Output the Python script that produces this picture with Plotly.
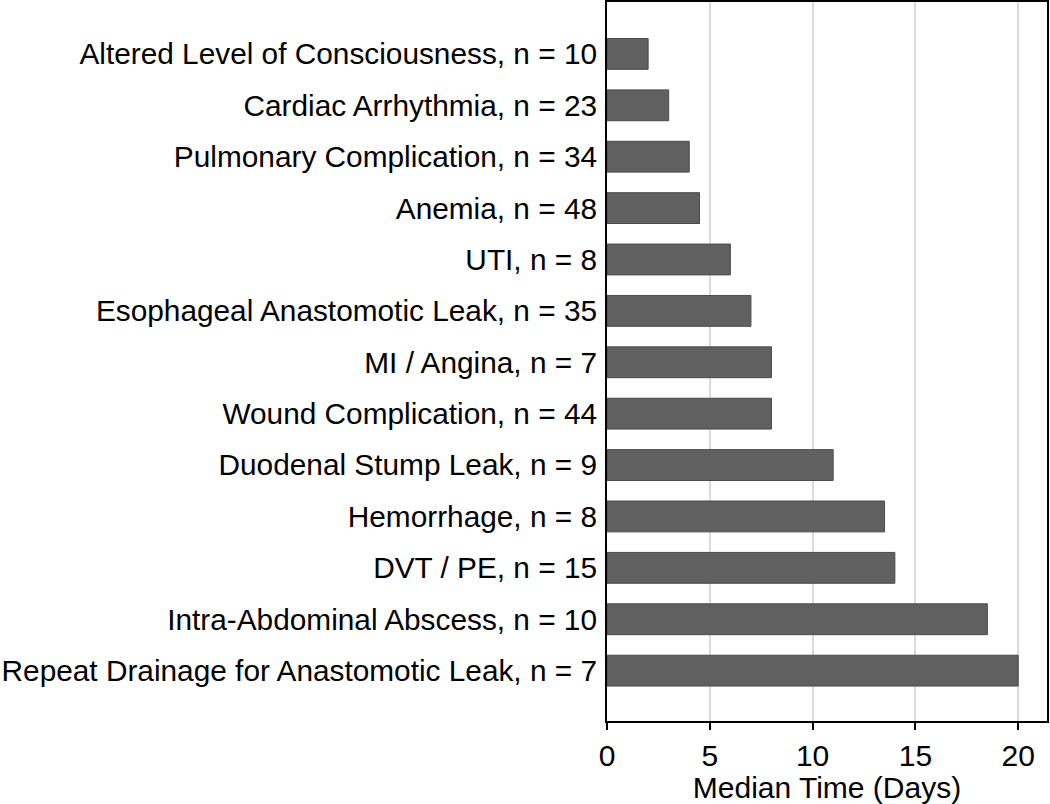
import plotly.graph_objects as go

categories = [
    "Altered Level of Consciousness, n = 10",
    "Cardiac Arrhythmia, n = 23",
    "Pulmonary Complication, n = 34",
    "Anemia, n = 48",
    "UTI, n = 8",
    "Esophageal Anastomotic Leak, n = 35",
    "MI / Angina, n = 7",
    "Wound Complication, n = 44",
    "Duodenal Stump Leak, n = 9",
    "Hemorrhage, n = 8",
    "DVT / PE, n = 15",
    "Intra-Abdominal Abscess, n = 10",
    "Repeat Drainage for Anastomotic Leak, n = 7",
]
median_days = [2, 3, 4, 4.5, 6, 7, 8, 8, 11, 13.5, 14, 18.5, 20]
x_ticks = [0, 5, 10, 15, 20]

fig = go.Figure(go.Bar(
    x=median_days,
    y=categories,
    orientation="h",
    width=0.6,
    marker=dict(color="#606060", line=dict(color="#4a4a4a", width=1)),
))

font = "Arial, Liberation Sans, sans-serif"
fig.update_layout(
    width=1050, height=804,
    margin=dict(l=607, r=3, t=2, b=83),
    plot_bgcolor="white", paper_bgcolor="white",
    font=dict(family=font, size=30, color="black"),
    showlegend=False,
    bargap=0.4,
)
fig.update_xaxes(
    range=[0, 21.4],
    tickvals=x_ticks,
    ticks="outside", ticklen=7, tickwidth=2, tickcolor="black",
    showgrid=True, gridcolor="#dadada", gridwidth=2,
    showline=True, linecolor="black", linewidth=2, mirror=True,
    zeroline=False,
    title=dict(text="Median Time (Days)", standoff=0, font=dict(size=30)),
    tickfont=dict(size=30),
    automargin=False,
)
fig.update_yaxes(
    categoryorder="array", categoryarray=categories,
    autorange=False, range=[12.98, -1.01],
    showline=True, linecolor="black", linewidth=2, mirror=True,
    showgrid=False, ticks="", ticklabelstandoff=2,
    tickfont=dict(size=29.8),
    automargin=False,
)
fig.write_html(
    "out.html",
    config={"displayModeBar": False},
    post_script="document.body.style.margin='0';document.body.style.padding='0';",
)
